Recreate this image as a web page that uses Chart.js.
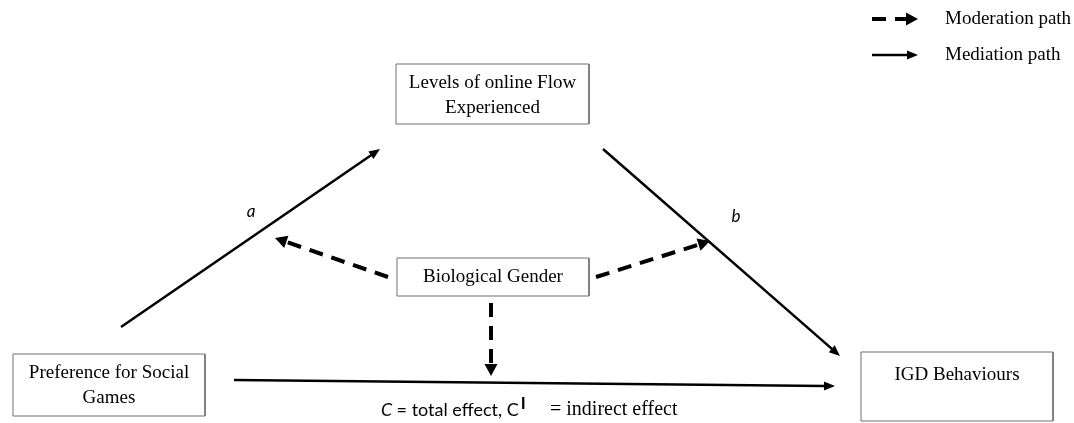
<!DOCTYPE html>
<html><head><meta charset="utf-8">
<script src="https://cdn.jsdelivr.net/npm/chart.js@4/dist/chart.umd.min.js"></script>
<style>html,body{margin:0;padding:0;background:#fff;overflow:hidden}canvas{display:block}</style>
</head><body><canvas id="c" width="1074" height="423"></canvas>
<script>
// ---- diagram data (canvas-sized coordinate space 0..1074 x 0..423) ----
const nodeLines = [["Levels of online Flow","Experienced"],["Preference for Social","Games"],["Biological Gender"],["IGD Behaviours"]];
const nodeLeft   = [396, 13, 397, 861];
const nodeTop    = [64, 354, 258, 352];
const nodeRight  = [589, 205, 589, 1053];
const nodeBottom = [124, 416, 296, 421];
const nodeTextY  = [[83, 108], [373, 398], [277], [375]];

const pathNames = ["a", "b", "total", "modA", "modB", "modTotal", "legendModeration", "legendMediation"];
const pathKind  = ["mediation", "mediation", "mediation", "moderation", "moderation", "moderation", "moderation", "mediation"];
const pathX1 = [121, 603, 234, 388, 596, 491, 872, 872];
const pathY1 = [327, 149, 380, 277, 277, 303, 19, 55];
const pathX2 = [380, 840, 835, 275, 710, 491, 918, 918];
const pathY2 = [149, 356, 386, 238, 241, 376, 19, 55];

const pathLabelText = ["a", "b"];
const pathLabelX = [251, 736];
const pathLabelY = [212, 217];

const legendText = ["Moderation path", "Mediation path"];
const legendX = [945, 945];
const legendY = [19, 55];

const noteParts = ["C", " = total effect, C", "ǀ", "= indirect effect"];
const noteX = [381, 392, 521, 550];
const noteY = [410, 410, 403, 410];

// ---- styles ----
const SERIF = '"Liberation Serif", "Times New Roman", serif';
const SANS = 'Lato, "Open Sans", sans-serif';
const kindStyle = {
  mediation: {width: 2.5, dash: [], headLen: 11, headHalf: 4.5},
  moderation: {width: 4, dash: [14, 9], headLen: 12, headHalf: 6.5}
};

function shortened(i) {
  const st = kindStyle[pathKind[i]];
  const dx = pathX2[i] - pathX1[i], dy = pathY2[i] - pathY1[i];
  const L = Math.hypot(dx, dy);
  const k = (L - st.headLen + 1) / L;
  return [{x: pathX1[i], y: pathY1[i]}, {x: pathX1[i] + dx * k, y: pathY1[i] + dy * k}];
}

const datasets = [];
nodeLines.forEach((n, i) => {
  datasets.push({
    label: "node" + i,
    data: [{x: nodeLeft[i], y: nodeTop[i]}, {x: nodeRight[i], y: nodeTop[i]}, {x: nodeRight[i], y: nodeBottom[i]}, {x: nodeLeft[i], y: nodeBottom[i]}, {x: nodeLeft[i], y: nodeTop[i]}],
    showLine: true, borderColor: "#707070", borderWidth: 1, pointRadius: 0, fill: false, tension: 0, clip: false
  });
});
pathNames.forEach((p, i) => {
  const st = kindStyle[pathKind[i]];
  datasets.push({
    label: p, data: shortened(i), showLine: true, borderColor: "#000", borderWidth: st.width,
    borderDash: st.dash, borderCapStyle: "butt", pointRadius: 0, tension: 0, clip: false
  });
});

const decor = {
  id: "decor",
  afterDatasetsDraw(chart) {
    const ctx = chart.ctx, xs = chart.scales.x, ys = chart.scales.y;
    const X = v => xs.getPixelForValue(v), Y = v => ys.getPixelForValue(v);
    ctx.save();
    // arrowheads
    pathNames.forEach((p, i) => {
      const st = kindStyle[pathKind[i]];
      const tx = X(pathX2[i]), ty = Y(pathY2[i]);
      const ang = Math.atan2(Y(pathY2[i]) - Y(pathY1[i]), X(pathX2[i]) - X(pathX1[i]));
      const bx = tx - st.headLen * Math.cos(ang), by = ty - st.headLen * Math.sin(ang);
      const px = -Math.sin(ang) * st.headHalf, py = Math.cos(ang) * st.headHalf;
      ctx.fillStyle = "#000";
      ctx.beginPath();
      ctx.moveTo(tx, ty);
      ctx.lineTo(bx + px, by + py);
      ctx.lineTo(bx - px, by - py);
      ctx.closePath();
      ctx.fill();
    });
    // node labels
    ctx.fillStyle = "#000";
    ctx.textAlign = "center";
    ctx.textBaseline = "middle";
    ctx.font = "19px " + SERIF;
    nodeLines.forEach((lines, i) => {
      const cx = X((nodeLeft[i] + nodeRight[i]) / 2);
      lines.forEach((t, j) => ctx.fillText(t, cx, Y(nodeTextY[i][j])));
    });
    // path labels
    ctx.font = "italic 17px " + SANS;
    pathLabelText.forEach((t, i) => ctx.fillText(t, X(pathLabelX[i]), Y(pathLabelY[i])));
    // legend
    ctx.textAlign = "left";
    ctx.font = "19px " + SERIF;
    legendText.forEach((t, i) => ctx.fillText(t, X(legendX[i]), Y(legendY[i])));
    // note
    const noteFonts = ["italic 18px " + SANS, "18px " + SANS, "bold 12px " + '"DejaVu Sans", sans-serif', "20px " + SERIF];
    noteParts.forEach((t, i) => { ctx.font = noteFonts[i]; ctx.fillText(t, X(noteX[i]), Y(noteY[i])); });
    ctx.restore();
  }
};

new Chart(document.getElementById("c"), {
  type: "scatter",
  data: {datasets},
  options: {
    responsive: false, animation: false, devicePixelRatio: 1,
    layout: {padding: 0},
    plugins: {legend: {display: false}, tooltip: {enabled: false}},
    scales: {
      x: {type: "linear", min: 0, max: 1074, display: false},
      y: {type: "linear", min: 0, max: 423, reverse: true, display: false}
    }
  },
  plugins: [decor]
});
</script>
</body></html>
